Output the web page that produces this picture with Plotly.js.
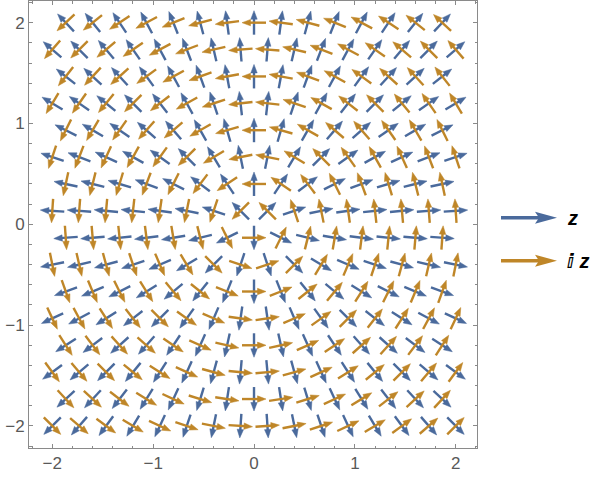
<!DOCTYPE html>
<html><head><meta charset="utf-8">
<script src="https://cdn.plot.ly/plotly-3.0.1.min.js"></script>
<style>body{margin:0;background:#fff;}</style>
</head><body><div id="chart" style="width:607px;height:481px;"></div>
<script>
// Sample grid of the vector plot (staggered rows)
const xFullRow  = [-2, -1.7333, -1.4667, -1.2, -0.9333, -0.6667, -0.4, -0.1333, 0.1333, 0.4, 0.6667, 0.9333, 1.2, 1.4667, 1.7333, 2];
const xShiftRow = [-1.8667, -1.6, -1.3333, -1.0667, -0.8, -0.5333, -0.2667, 0, 0.2667, 0.5333, 0.8, 1.0667, 1.3333, 1.6, 1.8667];
const yFullRows  = [-2, -1.4667, -0.9333, -0.4, 0.1333, 0.6667, 1.2, 1.7333];
const yShiftRows = [-1.7333, -1.2, -0.6667, -0.1333, 0.4, 0.9333, 1.4667, 2];
const seriesNames  = ['z', 'ⅈ z'];
const seriesColors = ['#4a6a9c', '#bf8628'];
const tickValues = [-2, -1, 0, 1, 2];

// The two fields: z -> (Re z, Im z), i z -> (-Im z, Re z)
function field(k, x, y) { return k === 0 ? [x, y] : [-y, x]; }

const pts = [];
yFullRows.forEach(y => xFullRow.forEach(x => pts.push([x, y])));
yShiftRows.forEach(y => xShiftRow.forEach(x => pts.push([x, y])));

const PXU = 100.85;           // pixels per data unit (equal aspect)
const HALF = 12 / PXU;        // half arrow length
const HEADL = 8.5 / PXU;      // head length
const HEADW = 3.2 / PXU;      // head half-width

const traces = [];
seriesNames.forEach((name, k) => {
  const SX = [], SY = [], HX = [], HY = [];
  pts.forEach(([x, y]) => {
    const v = field(k, x, y);
    const m = Math.hypot(v[0], v[1]);
    const ux = v[0] / m, uy = v[1] / m;
    const tx = x + HALF * ux, ty = y + HALF * uy;       // tip
    const bx = tx - HEADL * ux, by = ty - HEADL * uy;   // head base
    SX.push(x - HALF * ux, bx + 0.3 * HEADL * ux, null);
    SY.push(y - HALF * uy, by + 0.3 * HEADL * uy, null);
    HX.push(tx, bx - HEADW * uy, bx + HEADW * uy, tx, null);
    HY.push(ty, by + HEADW * ux, by - HEADW * ux, ty, null);
  });
  traces.push({
    type: 'scatter', mode: 'lines', x: SX, y: SY, name: name, showlegend: false,
    hoverinfo: 'skip', connectgaps: false,
    line: { color: seriesColors[k], width: 2.4 }
  });
  traces.push({
    type: 'scatter', mode: 'lines', x: HX, y: HY, name: name + ' heads', showlegend: false,
    hoverinfo: 'skip', connectgaps: false, fill: 'toself', fillcolor: seriesColors[k],
    line: { color: seriesColors[k], width: 0.5 }
  });
});

const L = 29, T = 1, W = 448, H = 447;
const px = X => (X - L) / W;
const py = Y => (T + H - Y) / H;

const frameColor = '#8a8a8a';
const axisBase = {
  showgrid: false, zeroline: false, showline: true, linecolor: frameColor, linewidth: 1,
  mirror: 'allticks', ticks: 'inside', ticklen: 4, tickwidth: 1, tickcolor: frameColor,
  tickmode: 'array', tickvals: tickValues,
  minor: { dtick: 0.2, tick0: 0, ticks: 'inside', ticklen: 2.5, tickwidth: 1, tickcolor: frameColor, showgrid: false },
  tickfont: { family: 'Liberation Sans, Arial, sans-serif', size: 17, color: '#595959' }
};

const legendY = [217.7, 260.7];
const shapes = [], annotations = [];
legendY.forEach((Yp, k) => {
  shapes.push({ type: 'line', xref: 'paper', yref: 'paper', x0: px(501), x1: px(541), y0: py(Yp), y1: py(Yp),
    line: { color: seriesColors[k], width: 3.4 } });
  shapes.push({ type: 'path', xref: 'paper', yref: 'paper', xsizemode: 'pixel', ysizemode: 'pixel',
    xanchor: px(557), yanchor: py(Yp), path: 'M0,0 L-22,6 L-18,0 L-22,-6 Z',
    fillcolor: seriesColors[k], line: { width: 0 } });
  annotations.push({ xref: 'paper', yref: 'paper', x: px(565), y: py(Yp), xanchor: 'left', yanchor: 'middle',
    showarrow: false, text: '<b><i>' + seriesNames[k] + '</i></b>',
    font: { family: 'Liberation Sans, DejaVu Sans, sans-serif', size: 20, color: '#000' } });
});

const layout = {
  width: 607, height: 481,
  margin: { l: L, r: 607 - L - W, t: T, b: 481 - T - H, pad: 0 },
  paper_bgcolor: '#fff', plot_bgcolor: '#fff',
  xaxis: Object.assign({}, axisBase, { range: [-2.231, 2.211] }),
  yaxis: Object.assign({}, axisBase, { range: [-2.219, 2.215] }),
  shapes: shapes, annotations: annotations, showlegend: false
};
Plotly.newPlot('chart', traces, layout, { staticPlot: true, displayModeBar: false });
</script></body></html>
